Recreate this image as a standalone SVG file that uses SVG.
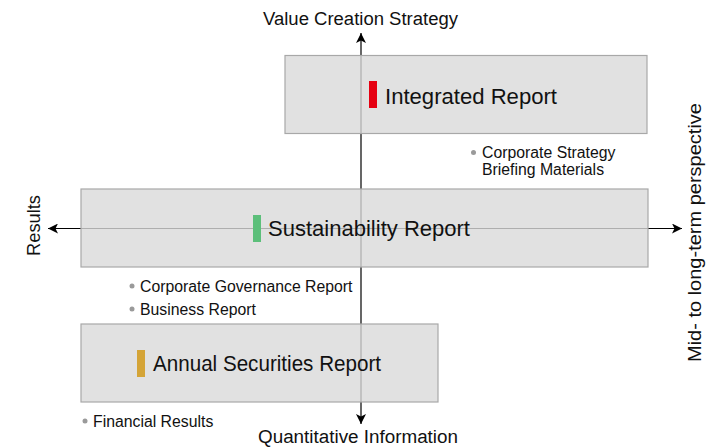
<svg xmlns="http://www.w3.org/2000/svg" width="713" height="447" viewBox="0 0 713 447">
<style>
text{font-family:"Liberation Sans",Arial,sans-serif;fill:#111}
.box{fill:#d9d9d9;fill-opacity:0.8;stroke:#a8a8a8;stroke-width:1.2}
.title{font-size:22px}
.note{font-size:15.8px}
.axis{font-size:18px}
.dot{fill:#9a9a9a}
</style>
<defs>
<marker id="ah" viewBox="0 0 10 10" refX="10" refY="5" markerWidth="10" markerHeight="10" markerUnits="userSpaceOnUse" orient="auto">
<path d="M0,0 L10,5 L0,10 L2.5,5 Z" fill="#000"/>
</marker>
</defs>
<g id="connectors" stroke="#000" stroke-width="1.2" fill="none">
<line x1="361" y1="228.5" x2="361" y2="33" marker-end="url(#ah)"/>
<line x1="361" y1="228.5" x2="361" y2="424" marker-end="url(#ah)"/>
<line x1="361" y1="228.5" x2="48" y2="228.5" marker-end="url(#ah)"/>
<line x1="361" y1="228.5" x2="682" y2="228.5" marker-end="url(#ah)"/>
</g>
<g id="integrated">
<rect class="box" x="285" y="55.5" width="362" height="78"/>
<rect x="369" y="81" width="8" height="27" fill="#e60012"/>
<text class="title" x="385" y="104" textLength="172" lengthAdjust="spacingAndGlyphs">Integrated Report</text>
</g>
<g id="sustainability">
<rect class="box" x="81" y="189" width="567" height="78"/>
<rect x="253" y="215" width="8" height="27" fill="#5cbf7a"/>
<text class="title" x="268" y="236" textLength="202" lengthAdjust="spacingAndGlyphs">Sustainability Report</text>
</g>
<g id="annual">
<rect class="box" x="81" y="324" width="357" height="78"/>
<rect x="137" y="350" width="8" height="27" fill="#d4a437"/>
<text class="title" x="153" y="371" textLength="228" lengthAdjust="spacingAndGlyphs">Annual Securities Report</text>
</g>
<g id="notes">
<circle class="dot" cx="473.5" cy="152.5" r="2.5"/>
<text class="note" x="482" y="158">Corporate Strategy</text>
<text class="note" x="482" y="175">Briefing Materials</text>
<circle class="dot" cx="132" cy="286" r="2.5"/>
<text class="note" x="140" y="292">Corporate Governance Report</text>
<circle class="dot" cx="132" cy="309" r="2.5"/>
<text class="note" x="140" y="315">Business Report</text>
<circle class="dot" cx="85" cy="421" r="2.5"/>
<text class="note" x="93" y="427">Financial Results</text>
</g>
<g id="axis-labels">
<text class="axis" x="360.5" y="25" text-anchor="middle" textLength="195" lengthAdjust="spacingAndGlyphs">Value Creation Strategy</text>
<text class="axis" x="358" y="443" text-anchor="middle" textLength="200" lengthAdjust="spacingAndGlyphs">Quantitative Information</text>
<text class="axis" transform="translate(40,225.5) rotate(-90)" text-anchor="middle" textLength="61" lengthAdjust="spacingAndGlyphs">Results</text>
<text class="axis" transform="translate(701,232.5) rotate(-90)" text-anchor="middle" textLength="259" lengthAdjust="spacingAndGlyphs">Mid- to long-term perspective</text>
</g>
</svg>
